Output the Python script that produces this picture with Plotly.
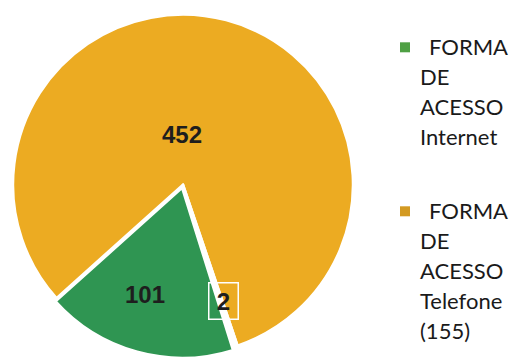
import plotly.graph_objects as go

# Access channels and their counts
categories = ["FORMA DE ACESSO Telefone (155)", "Outros", "FORMA DE ACESSO Internet"]
values = [452, 2, 101]
slice_colors = ["#ECAB22", "#FFFFFF", "#2F9552"]
slice_pull = [0, 0, 0.02]

# Legend entries (Internet first, Telefone second), each wrapped over several lines
legend_lines = [
    ["FORMA", "DE", "ACESSO", "Internet"],
    ["FORMA", "DE", "ACESSO", "Telefone", "(155)"],
]
legend_colors = ["#4FA044", "#D39A22"]

W, H = 512, 358

fig = go.Figure(
    go.Pie(
        labels=categories,
        values=values,
        sort=False,
        direction="clockwise",
        rotation=228.1,
        pull=slice_pull,
        marker=dict(colors=slice_colors, line=dict(color="#FFFFFF", width=2.5)),
        textinfo="none",
        hoverinfo="skip",
        showlegend=False,
        domain=dict(x=[9 / W, 357 / W], y=[0, 346.8 / H]),
    )
)


def px(x, y):
    return x / W, 1 - y / H


annotations = []
shapes = []

# Value labels on the slices
label_font = dict(family="Liberation Sans, Arial, sans-serif", size=24, color="#1E1E1E")
for val, (cx, cy) in [(values[0], (182, 134)), (values[2], (145, 294))]:
    x, y = px(cx, cy)
    annotations.append(dict(
        x=x, y=y, xref="paper", yref="paper", text=f"<b>{val}</b>",
        showarrow=False, font=label_font, xanchor="center", yanchor="middle",
    ))
x, y = px(223.5, 301)
annotations.append(dict(
    x=x, y=y, xref="paper", yref="paper", text=f"<b>{values[1]}</b>",
    showarrow=False, font=label_font, xanchor="center", yanchor="middle",
    width=28, height=35, bordercolor="#FFFFFF", borderwidth=1.5, borderpad=0,
))

# Hand-built legend so wrapped lines hang under the colour square
legend_font = dict(family="Lato, Open Sans, sans-serif", size=22, color="#1A1A1A")
block_tops = [53.3, 217.3]
line_gap = 30
for lines, color, base in zip(legend_lines, legend_colors, block_tops):
    sq_top = base - 11
    shapes.append(dict(
        type="rect", xref="paper", yref="paper",
        x0=400 / W, x1=410 / W, y0=1 - sq_top / H, y1=1 - (sq_top + 10) / H,
        fillcolor=color, line=dict(width=0),
    ))
    for i, txt in enumerate(lines):
        left = 427 if i == 0 else 418
        mid = base + i * line_gap - 6.5
        x, y = px(left, mid)
        annotations.append(dict(
            x=x, y=y, xref="paper", yref="paper", text=txt,
            showarrow=False, font=legend_font, xanchor="left", yanchor="middle",
        ))

fig.update_layout(
    width=W, height=H,
    margin=dict(l=0, r=0, t=0, b=0),
    paper_bgcolor="#FFFFFF",
    plot_bgcolor="#FFFFFF",
    annotations=annotations,
    shapes=shapes,
)

fig.write_html("out.html")
